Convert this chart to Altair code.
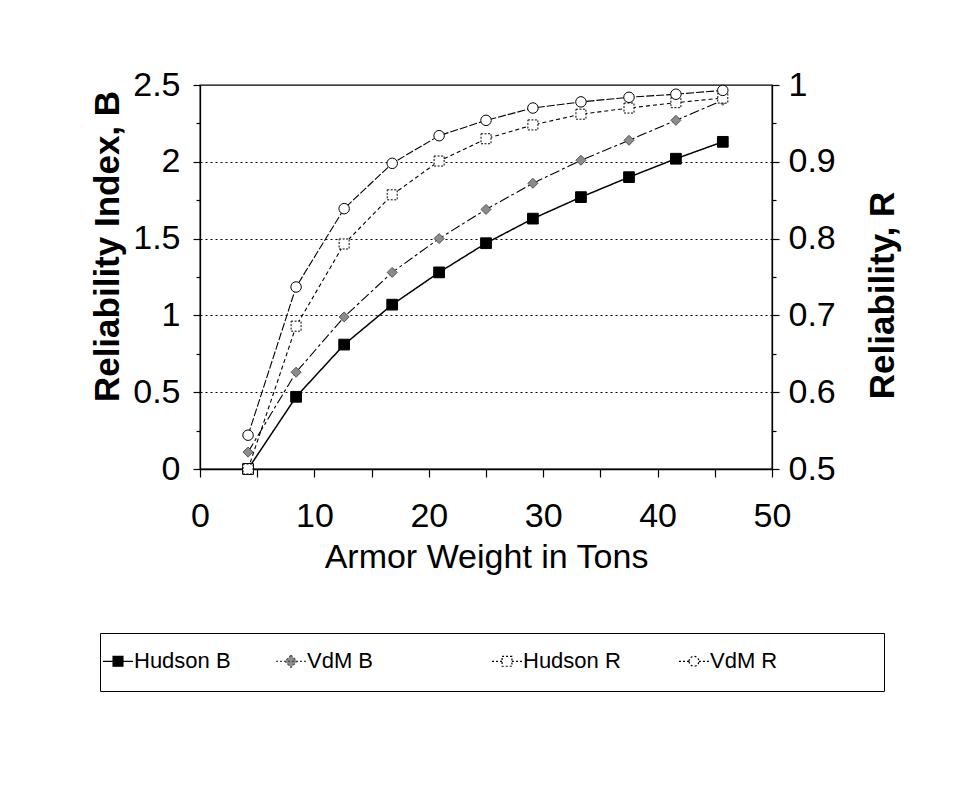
import altair as alt
import pandas as pd

# ---------------- data ----------------
TONS = [4.2, 8.4, 12.6, 16.8, 20.9, 25.0, 29.1, 33.3, 37.5, 41.6, 45.7]
HUDSON_B = [0.00, 0.47, 0.81, 1.07, 1.28, 1.47, 1.63, 1.77, 1.90, 2.02, 2.13]
VDM_B = [0.11, 0.63, 0.99, 1.28, 1.50, 1.69, 1.86, 2.01, 2.14, 2.27, 2.40]
HUDSON_R = [0.500, 0.686, 0.793, 0.857, 0.901, 0.930, 0.948, 0.962, 0.970, 0.977, 0.983]
VDM_R = [0.544, 0.737, 0.839, 0.898, 0.934, 0.954, 0.970, 0.978, 0.984, 0.988, 0.993]

SERIES = ["Hudson B", "VdM B", "Hudson R", "VdM R"]
X_TICKS = [0, 5, 10, 15, 20, 25, 30, 35, 40, 45, 50]
B_TICKS = [0, 0.25, 0.5, 0.75, 1, 1.25, 1.5, 1.75, 2, 2.25, 2.5]
R_TICKS = [0.5, 0.55, 0.6, 0.65, 0.7, 0.75, 0.8, 0.85, 0.9, 0.95, 1.0]

rows = []
for name, vals in zip(SERIES, [HUDSON_B, VDM_B, HUDSON_R, VDM_R]):
    for t, v in zip(TONS, vals):
        rows.append({"tons": t, "value": v, "series": name})
df = pd.DataFrame(rows)

FONT = "Liberation Sans, Arial, Helvetica, sans-serif"
GREY = "#8c8c8c"

# ---------------- axes ----------------
x_axis = alt.Axis(
    values=X_TICKS,
    labelExpr="datum.value % 10 === 0 ? datum.label : ''",
    title="Armor Weight in Tons",
    titleFontSize=34, titleFontWeight="normal", titleY=98,
    titleBaseline="alphabetic",
    labelFontSize=34, labelPadding=22, tickSize=8,
    grid=False, labelFlush=False,
)
x_enc = alt.X("tons:Q", scale=alt.Scale(domain=[0, 50], nice=False, zero=False), axis=x_axis)

MAJOR_B = "(datum.value * 2) % 1 == 0"
yl_axis = alt.Axis(
    values=B_TICKS, orient="left",
    title="Reliability Index, B",
    titleFontSize=35, titleFontWeight="bold",
    titleX=-82, titleY=161, titleAngle=270, titleBaseline="alphabetic",
    labelExpr=f"{MAJOR_B} ? format(datum.value, '~g') : ''",
    labelFontSize=34, labelPadding=13,
    tickSize={"condition": {"test": MAJOR_B, "value": 7}, "value": 4},
    grid=True, gridDash=[2, 3], gridColor="black", gridWidth=1.2,
    gridOpacity={"condition": {"test": f"datum.value > 0.1 && datum.value < 2.4 && {MAJOR_B}", "value": 1}, "value": 0},
)
yl_enc = alt.Y("value:Q", scale=alt.Scale(domain=[0, 2.5], nice=False, zero=False), axis=yl_axis)

MAJOR_R = "abs(datum.value * 10 - round(datum.value * 10)) < 0.001"
yr_axis = alt.Axis(
    values=R_TICKS, orient="right",
    title="Reliability, R",
    titleFontSize=35, titleFontWeight="bold",
    titleX=121, titleY=210, titleAngle=270, titleBaseline="alphabetic",
    labelExpr=f"{MAJOR_R} ? format(datum.value, '~g') : ''",
    labelFontSize=34, labelPadding=9,
    tickSize={"condition": {"test": MAJOR_R, "value": 7}, "value": 4},
    grid=False,
)
yr_enc = alt.Y("value:Q", scale=alt.Scale(domain=[0.5, 1.0], nice=False, zero=False), axis=yr_axis)

base = alt.Chart(df)


def series_layers(name, y_enc, dash, width, shape, size, fill, stroke, pdash):
    sub = base.transform_filter(alt.datum.series == name)
    line = sub.mark_line(color="black", strokeWidth=width, strokeDash=dash).encode(x=x_enc, y=y_enc)
    pt_kwargs = dict(shape=shape, size=size, filled=True, fill=fill, stroke=stroke,
                     strokeWidth=1, opacity=1)
    if pdash:
        pt_kwargs["strokeDash"] = pdash
    pts = sub.mark_point(**pt_kwargs).encode(x=x_enc, y=y_enc)
    return [line, pts]


# ---------------- legend (built from the series list) ----------------
# legend symbol = short line + marker; path units are the symbol radius (19 px)
TALL = "M0,0M0,-1M0,1"
PATHS = [
    TALL + "M-0.79,0H0.79M-0.26,-0.26H0.26V0.26H-0.26Z",
    TALL + "M-0.79,0H0.79M0,-0.32L0.32,0L0,0.32L-0.32,0Z",
    TALL + "M-0.79,0H-0.26M0.26,0H0.79M-0.26,-0.26H0.26V0.26H-0.26Z",
    TALL + "M-0.79,0H-0.26M0.26,0H0.79M-0.26,0A0.26,0.26,0,1,1,0.26,0A0.26,0.26,0,1,1,-0.26,0Z",
]
FILLS = ["black", GREY, "white", "white"]
STROKES = ["black", "#444444", "black", "black"]
DASHES = [[1, 0], [2, 2], [2, 2], [2, 2]]

NB = "\u00a0"
END = "\u200b"
label_expr = (
    f"datum.label == 'VdM B' ? datum.label + '{NB * 12}{END}' : "
    f"datum.label == 'Hudson R' ? datum.label + '{NB * 2}{END}' : "
    f"datum.label == 'VdM R' ? datum.label + '{NB * 16}{END}' : datum.label"
)
leg = alt.Legend(
    title=None,
    orient="none", legendX=-100, legendY=548,
    direction="horizontal", columns=4, columnPadding=42,
    symbolSize=1444, symbolStrokeWidth=1.2,
    symbolOffset={"expr": "-10"}, labelOffset={"expr": "-4"},
    labelFontSize=22, labelFont=FONT, labelColor="black", labelLimit=500,
    labelExpr=label_expr,
    strokeColor="black", fillColor="white", padding=8,
)
dummy = base.transform_filter("false").mark_point(filled=True, opacity=1, strokeWidth=1.2).encode(
    x=x_enc, y=yl_enc,
    shape=alt.Shape("series:N", scale=alt.Scale(domain=SERIES, range=PATHS), legend=leg),
    fill=alt.Fill("series:N", scale=alt.Scale(domain=SERIES, range=FILLS), legend=leg),
    stroke=alt.Stroke("series:N", scale=alt.Scale(domain=SERIES, range=STROKES), legend=leg),
    strokeDash=alt.StrokeDash("series:N", scale=alt.Scale(domain=SERIES, range=DASHES), legend=leg),
)

left_layers = (
    series_layers("Hudson B", yl_enc, [1, 0], 1.5, "square", 115, "black", "black", None)
    + series_layers("VdM B", yl_enc, [10, 3, 3, 3], 1.1, "diamond", 100, GREY, "#555555", None)
    + [dummy]
)
right_layers = (
    series_layers("Hudson R", yr_enc, [4, 3], 1.1, "square", 100, "white", "black", [2, 1.5])
    + series_layers("VdM R", yr_enc, [8, 2], 1.1, "circle", 110, "white", "black", None)
)

left = alt.layer(*left_layers)
right = alt.layer(*right_layers)

chart = (
    alt.layer(left, right)
    .resolve_scale(y="independent")
    .properties(
        width=572, height=384,
        padding={"left": 192, "top": 77, "right": 160, "bottom": 320},
        autosize=alt.AutoSizeParams(type="none"),
        background="white",
    )
    .configure_view(stroke="black", strokeWidth=1.3)
    .configure_axis(
        labelFont=FONT, titleFont=FONT, labelColor="black", titleColor="black",
        domainColor="black", domainWidth=1.3, tickColor="black", tickWidth=1.2,
    )
)

chart.save("out.html", embed_options={"renderer": "svg", "actions": False})
